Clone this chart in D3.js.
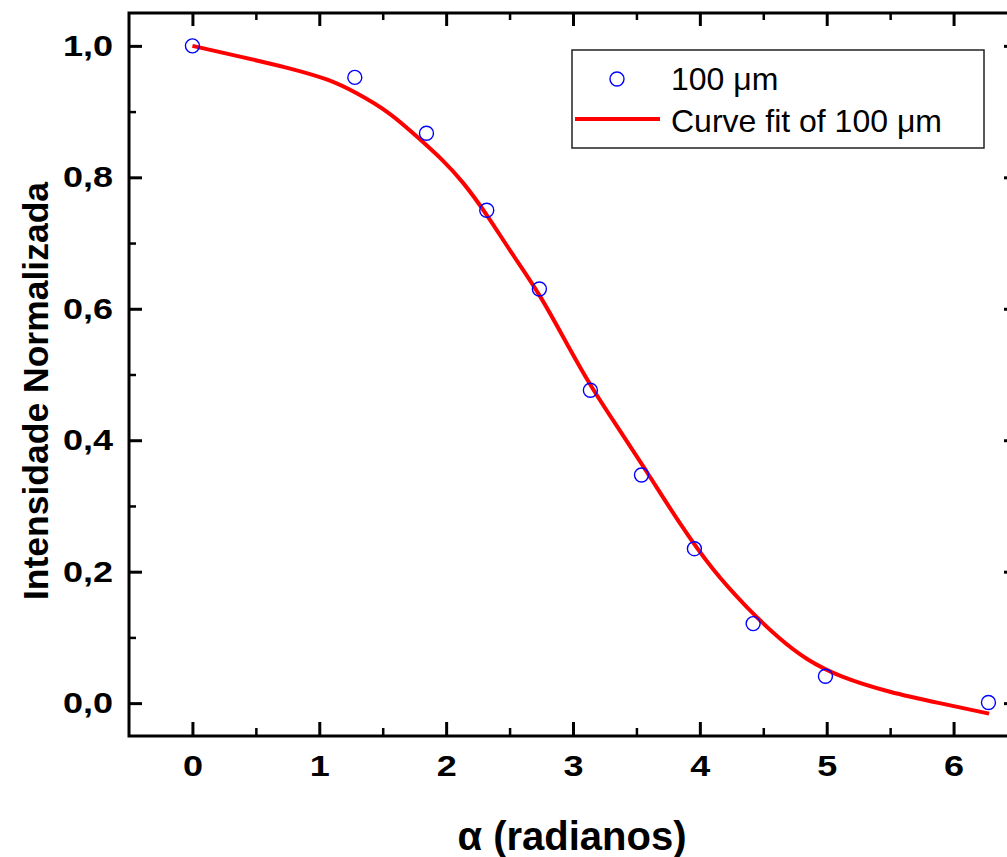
<!DOCTYPE html>
<html>
<head>
<meta charset="utf-8">
<script src="https://cdn.jsdelivr.net/npm/d3@7"></script>
<style>
  html, body { margin: 0; padding: 0; background: #fff; }
  svg { display: block; }
</style>
</head>
<body>
<svg id="chart" width="1007" height="857"></svg>
<script>
// ---- data ----
const pointX = [0, 1.28, 1.845, 2.32, 2.735, 3.137, 3.54, 3.957, 4.42, 4.99, 6.275];
const pointY = [1.0, 0.952, 0.867, 0.750, 0.630, 0.476, 0.347, 0.235, 0.121, 0.041, 0.001];
const fitX = [0, 0.37, 0.77, 1.08, 1.29, 1.55, 1.81, 1.97, 2.13, 2.32, 2.52, 2.74, 2.97, 3.15, 3.31, 3.58, 3.84, 4.10, 4.37, 4.63, 4.84, 5.10, 5.50, 5.89, 6.28];
const fitY = [1.0, 0.984, 0.966, 0.949, 0.929, 0.900, 0.855, 0.827, 0.794, 0.744, 0.683, 0.622, 0.540, 0.479, 0.432, 0.353, 0.273, 0.202, 0.145, 0.097, 0.066, 0.040, 0.016, 0.000, -0.016];
const xTicks = [0, 1, 2, 3, 4, 5, 6];
const xTickLabels = ["0", "1", "2", "3", "4", "5", "6"];
const xMinor = [0.5, 1.5, 2.5, 3.5, 4.5, 5.5];
const yTicks = [0, 0.2, 0.4, 0.6, 0.8, 1.0];
const yTickLabels = ["0,0", "0,2", "0,4", "0,6", "0,8", "1,0"];
const yMinor = [0.1, 0.3, 0.5, 0.7, 0.9];
const seriesNames = ["100 \u03bcm", "Curve fit of 100 \u03bcm"];
const xTitle = "\u03b1 (radianos)";
const yTitle = "Intensidade Normalizada";

// ---- layout ----
const L = 129, R = 1017, T = 13, B = 736;
const svg = d3.select("#chart");
const x = d3.scaleLinear().domain([-0.5, 6.5]).range([L, R]);
const y = d3.scaleLinear().domain([-0.05, 1.05]).range([B, T]);
const font = "'Liberation Sans', Arial, Helvetica, sans-serif";
const SX = 1.2; // horizontal stretch of tick labels

function styleAxis(g, w) {
  g.select(".domain").remove();
  g.selectAll(".tick line").attr("stroke", "#000").attr("stroke-width", w);
}

// bottom major
svg.append("g").attr("transform", `translate(0,${B})`)
  .call(d3.axisBottom(x).tickValues(xTicks).tickSizeInner(-14).tickSizeOuter(0).tickPadding(19)
    .tickFormat((d, i) => xTickLabels[i]))
  .call(g => styleAxis(g, 3))
  .call(g => g.selectAll("text").attr("font-family", font).attr("font-weight", "bold")
    .attr("font-size", 30).attr("fill", "#000").attr("transform", `scale(${SX},1)`));
// bottom minor
svg.append("g").attr("transform", `translate(0,${B})`)
  .call(d3.axisBottom(x).tickValues(xMinor).tickSizeInner(-8).tickSizeOuter(0).tickFormat(""))
  .call(g => styleAxis(g, 2.5));
// top major/minor
svg.append("g").attr("transform", `translate(0,${T})`)
  .call(d3.axisTop(x).tickValues(xTicks).tickSizeInner(-13).tickSizeOuter(0).tickFormat(""))
  .call(g => styleAxis(g, 3));
svg.append("g").attr("transform", `translate(0,${T})`)
  .call(d3.axisTop(x).tickValues(xMinor).tickSizeInner(-7).tickSizeOuter(0).tickFormat(""))
  .call(g => styleAxis(g, 2.5));
// left major
svg.append("g").attr("transform", `translate(${L},0)`)
  .call(d3.axisLeft(y).tickValues(yTicks).tickSizeInner(-13).tickSizeOuter(0).tickPadding(16 / SX)
    .tickFormat((d, i) => yTickLabels[i]))
  .call(g => styleAxis(g, 3))
  .call(g => g.selectAll("text").attr("font-family", font).attr("font-weight", "bold")
    .attr("font-size", 30).attr("fill", "#000").attr("transform", `scale(${SX},1)`));
svg.append("g").attr("transform", `translate(${L},0)`)
  .call(d3.axisLeft(y).tickValues(yMinor).tickSizeInner(-7).tickSizeOuter(0).tickFormat(""))
  .call(g => styleAxis(g, 2.5));
// right
svg.append("g").attr("transform", `translate(${R},0)`)
  .call(d3.axisRight(y).tickValues(yTicks).tickSizeInner(-13).tickSizeOuter(0).tickFormat(""))
  .call(g => styleAxis(g, 3));
svg.append("g").attr("transform", `translate(${R},0)`)
  .call(d3.axisRight(y).tickValues(yMinor).tickSizeInner(-7).tickSizeOuter(0).tickFormat(""))
  .call(g => styleAxis(g, 2.5));

// frame
svg.append("rect").attr("x", L).attr("y", T).attr("width", R - L).attr("height", B - T)
  .attr("fill", "none").attr("stroke", "#000").attr("stroke-width", 3);

// fit curve
const fitData = fitX.map((v, i) => [v, fitY[i]]);
svg.append("path").datum(fitData)
  .attr("fill", "none").attr("stroke", "#ff0000").attr("stroke-width", 4)
  .attr("d", d3.line().x(d => x(d[0])).y(d => y(d[1])).curve(d3.curveBasis));

// points
svg.append("g").selectAll("circle").data(pointX.map((v, i) => [v, pointY[i]])).join("circle")
  .attr("cx", d => x(d[0])).attr("cy", d => y(d[1])).attr("r", 7)
  .attr("fill", "none").attr("stroke", "#0000ff").attr("stroke-width", 1.4);

// legend
const lg = svg.append("g");
lg.append("rect").attr("x", 572).attr("y", 50).attr("width", 412).attr("height", 98)
  .attr("fill", "#fff").attr("stroke", "#222").attr("stroke-width", 1.5);
lg.append("circle").attr("cx", 617).attr("cy", 79).attr("r", 7)
  .attr("fill", "none").attr("stroke", "#0000ff").attr("stroke-width", 1.4);
lg.append("line").attr("x1", 575).attr("x2", 660).attr("y1", 119).attr("y2", 119)
  .attr("stroke", "#ff0000").attr("stroke-width", 4);
lg.append("text").attr("x", 671).attr("y", 90).text(seriesNames[0])
  .attr("font-family", font).attr("font-size", 32).attr("fill", "#000");
lg.append("text").attr("x", 671).attr("y", 132).text(seriesNames[1])
  .attr("font-family", font).attr("font-size", 32).attr("fill", "#000");

// titles
svg.append("text").attr("x", 572).attr("y", 850).attr("text-anchor", "middle")
  .attr("font-family", font).attr("font-weight", "bold").attr("font-size", 40).attr("fill", "#000")
  .text(xTitle);
svg.append("text").attr("transform", "translate(48,391) rotate(-90)").attr("text-anchor", "middle")
  .attr("font-family", font).attr("font-weight", "bold").attr("font-size", 35.5).attr("fill", "#000")
  .text(yTitle);
</script>
</body>
</html>
